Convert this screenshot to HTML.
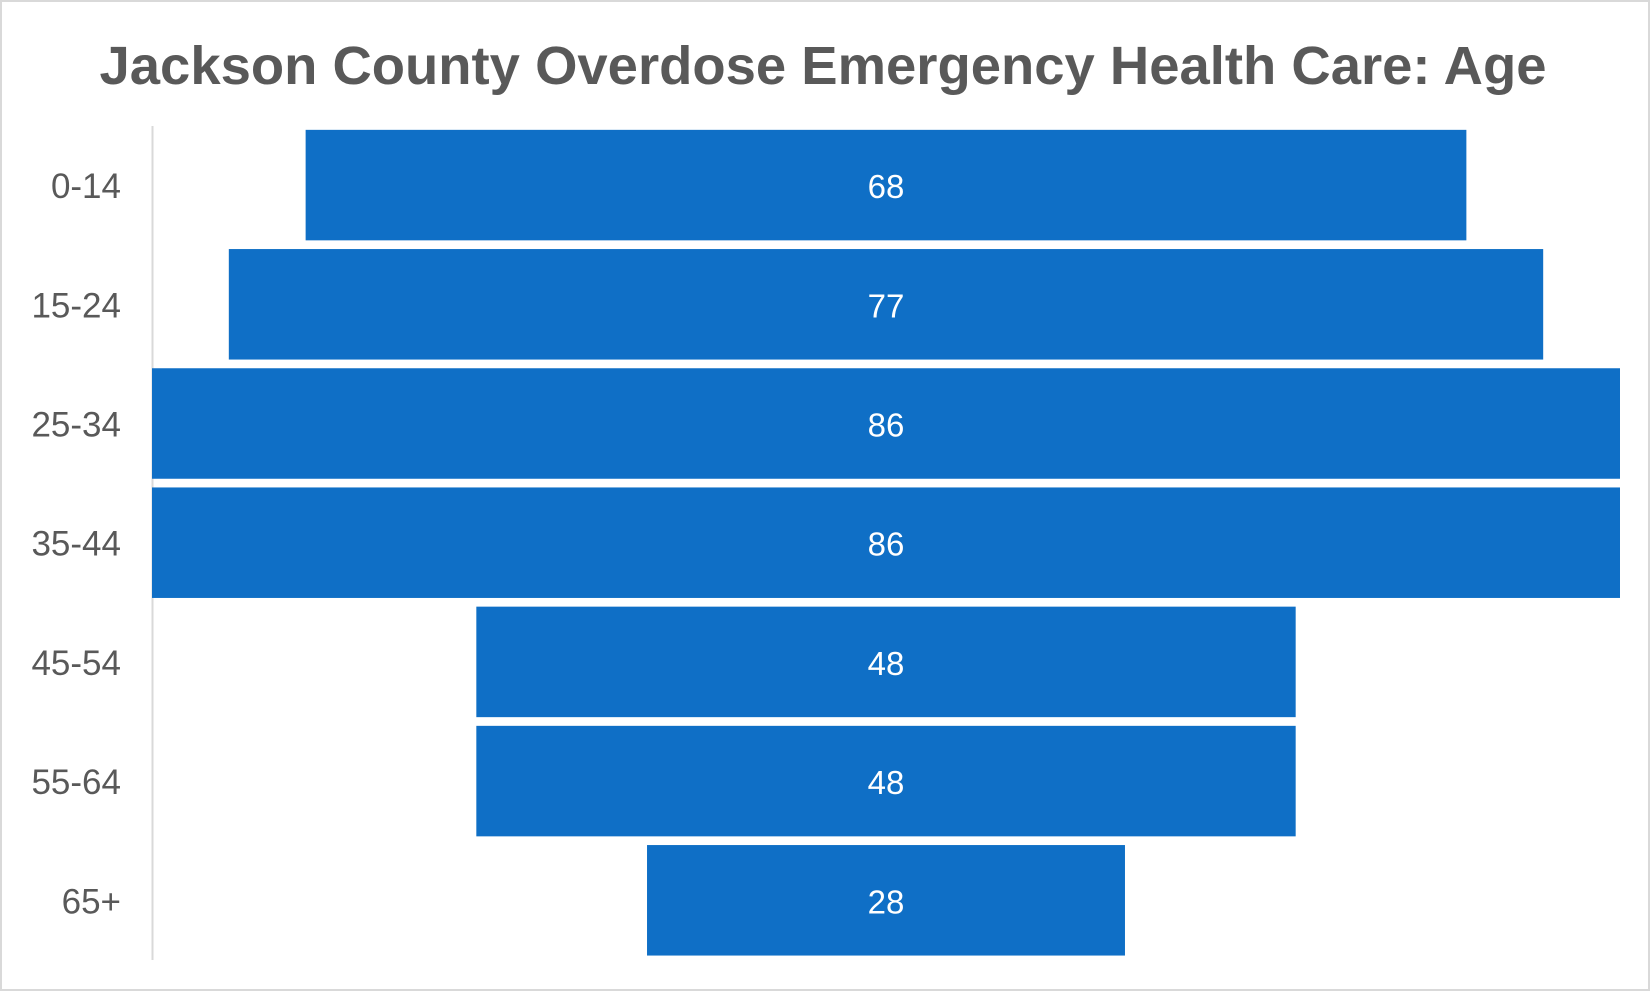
<!DOCTYPE html>
<html><head><meta charset="utf-8"><style>
html,body{margin:0;padding:0;background:#fff}
svg{display:block}
text{font-family:"Liberation Sans",sans-serif}
</style></head><body>
<svg id="chart" width="1650" height="991" viewBox="0 0 1650 991">
<rect x="1" y="1" width="1648" height="989" fill="#fff" stroke="#d9d9d9" stroke-width="2"/>
<text x="823" y="84" text-anchor="middle" font-size="54" font-weight="bold" fill="#595959" textLength="1447" lengthAdjust="spacingAndGlyphs">Jackson County Overdose Emergency Health Care: Age</text>
<line x1="152.5" y1="126" x2="152.5" y2="960" stroke="#d9d9d9" stroke-width="2"/>
<g id="bars"></g>
</svg>
<script>
const categories=["0-14","15-24","25-34","35-44","45-54","55-64","65+"];
const values=[68,77,86,86,48,48,28];
const svg=document.getElementById('bars');
const NS='http://www.w3.org/2000/svg';
const centerX=886, unit=1468/86, top0=125.5, band=119.2, barH=110.5;
function xW(v){return v*unit;}
function yB(i){return top0+i*band+(band-barH)/2;}
categories.forEach((c,i)=>{
  const w=xW(values[i]);const y=yB(i);
  const r=document.createElementNS(NS,'rect');
  r.setAttribute('x',centerX-w/2);r.setAttribute('y',y);
  r.setAttribute('width',w);r.setAttribute('height',barH);
  r.setAttribute('fill','#0f6fc6');
  
  
  svg.appendChild(r);
  const t=document.createElementNS(NS,'text');
  t.setAttribute('x',centerX);t.setAttribute('y',y+barH/2+13);
  t.setAttribute('text-anchor','middle');t.setAttribute('font-size','33');t.setAttribute('fill','#fff');
  t.textContent=values[i];
  
  
  svg.appendChild(t);
  const l=document.createElementNS(NS,'text');
  l.setAttribute('x',121);l.setAttribute('y',y+barH/2+13);
  l.setAttribute('text-anchor','end');l.setAttribute('font-size','35');l.setAttribute('fill','#595959');
  l.textContent=c;
  
  
  svg.appendChild(l);
});
</script>
</body></html>
